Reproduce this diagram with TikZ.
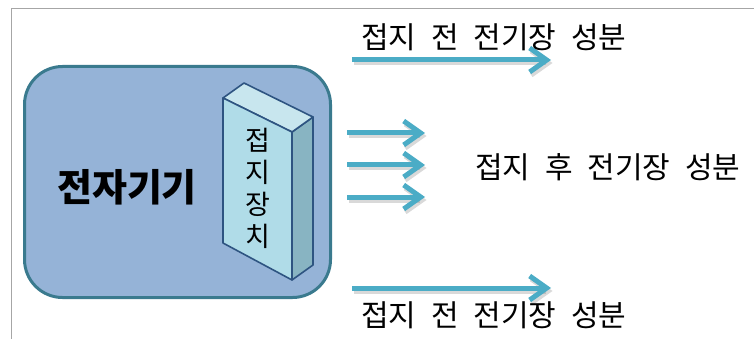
\documentclass[tikz,border=0pt]{standalone}
\usepackage{fontspec}
\newfontfamily\kr[WordSpace=2.2]{Noto Sans CJK KR}
\usetikzlibrary{arrows.meta}
\definecolor{boxfill}{HTML}{95B3D7}
\definecolor{boxline}{HTML}{3A7A8E}
\definecolor{arrowc}{HTML}{4BACC6}
\definecolor{slabfront}{HTML}{B0DCE8}
\definecolor{slabtop}{HTML}{C8E6EE}
\definecolor{slabside}{HTML}{88B4C2}
\definecolor{slabline}{HTML}{2E5481}
\definecolor{frameline}{HTML}{A6A6A6}
\begin{document}
\begin{tikzpicture}[x=1pt,y=-1pt,
  tipstyle/.style={-{Straight Barb[length=17pt,width=24pt]}},
  field/.style={line width=5pt, draw=arrowc, tipstyle},
  fieldshadow/.style={line width=5pt, draw=black!50, opacity=.3, tipstyle},
  label/.style={font=\kr\fontsize{30}{34}\selectfont, inner sep=0pt, text=black},
  slabtext/.style={font=\kr\fontsize{27}{30}\selectfont, inner sep=0pt, text=black},
  face/.style={draw=slabline, line width=1.6pt, line join=round}]
\useasboundingbox (0,0) rectangle (754,339);
% frame
\draw[frameline, line width=1pt] (11,339) -- (11,9) -- (754,9);
% device box
\node[draw=boxline, line width=3pt, fill=boxfill, rounded corners=38pt,
      minimum width=306pt, minimum height=231pt, inner sep=0pt] (device) at (177.5,182) {};
\node[font=\kr\bfseries\fontsize{38}{42}\selectfont, inner sep=0pt] (devlabel) at (127,187) {전자기기};
% slab
\coordinate (A) at (223,98);
\coordinate (D) at (292,132);
\coordinate (F) at (223,243);
\coordinate (E) at (292,280);
\coordinate (B) at (244,83);
\coordinate (C) at (313,117);
\coordinate (G) at (313,265);
\filldraw[face, fill=slabside] (D) -- (C) -- (G) -- (E) -- cycle;
\filldraw[face, fill=slabtop] (A) -- (B) -- (C) -- (D) -- cycle;
\filldraw[face, fill=slabfront] (A) -- (D) -- (E) -- (F) -- cycle;
\node[slabtext] (s1) at (258,140) {접};
\node[slabtext] (s2) at (258,172) {지};
\node[slabtext] (s3) at (258,204) {장};
\node[slabtext] (s4) at (258,236) {치};
% arrow coordinates
\coordinate (t0) at (352,60);  \coordinate (t1) at (551,60);
\coordinate (m10) at (347,133); \coordinate (m11) at (425,133);
\coordinate (m20) at (347,165); \coordinate (m21) at (425,165);
\coordinate (m30) at (347,197); \coordinate (m31) at (425,197);
\coordinate (b0) at (352,288); \coordinate (b1) at (551,288);
% shadows
\foreach \s/\e in {t0/t1,m10/m11,m20/m21,m30/m31,b0/b1}
  \draw[fieldshadow, transform canvas={shift={(1.5pt,-3pt)}}] (\s) -- (\e);
% arrows
\foreach \s/\e in {t0/t1,m10/m11,m20/m21,m30/m31,b0/b1}
  \draw[field] (\s) -- (\e);
% labels
\node[label, anchor=west] (toplabel) at (361,37) {접지 전 전기장 성분};
\node[label, anchor=west] (midlabel) at (475,167) {접지 후 전기장 성분};
\node[label, anchor=west] (botlabel) at (361,315) {접지 전 전기장 성분};
\end{tikzpicture}
\end{document}
